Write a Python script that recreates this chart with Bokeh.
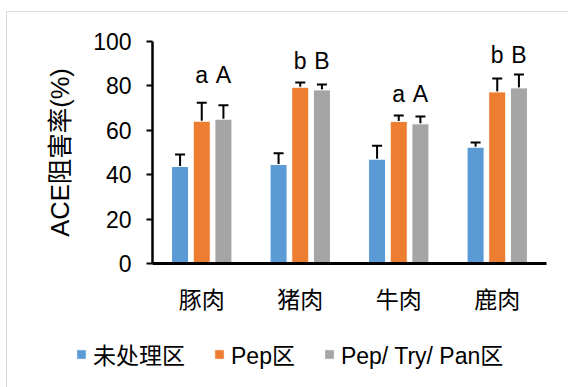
from bokeh.plotting import figure
from bokeh.layouts import column
from bokeh.models import ColumnDataSource, Whisker, TeeHead, Legend, LegendItem, FactorRange, Range1d
from bokeh.transform import dodge
from bokeh.core.properties import value
from bokeh.embed import file_html
from bokeh.resources import INLINE

# Meat types and ACE inhibition (%) for each treatment, with standard deviations
meats = ["豚肉", "猪肉", "牛肉", "鹿肉"]
untreated = [43.7, 44.6, 47.0, 52.4]
untreated_sd = [5.4, 5.1, 6.0, 2.1]
pep = [64.1, 79.4, 64.0, 77.3]
pep_sd = [8.3, 2.1, 2.7, 6.0]
pep_try_pan = [65.0, 78.2, 62.9, 79.1]
pep_try_pan_sd = [6.3, 2.4, 3.3, 6.0]

# Significance letters above the Pep and Pep/Try/Pan bars
pep_letters = ["a", "b", "a", "b"]
mix_letters = ["A", "B", "A", "B"]
letter_height = [85.0, 91.0, 76.5, 94.0]

series_names = ["未处理区", "Pep区", "Pep/ Try/ Pan区"]
colors = ["#5B9BD5", "#ED7D31", "#A5A5A5"]

FONT = "Liberation Sans, Noto Sans CJK SC"

src = ColumnDataSource(dict(
    meat=meats,
    u=untreated, u_hi=[m + s for m, s in zip(untreated, untreated_sd)],
    p=pep, p_hi=[m + s for m, s in zip(pep, pep_sd)],
    t=pep_try_pan, t_hi=[m + s for m, s in zip(pep_try_pan, pep_try_pan_sd)],
    la=pep_letters, lb=mix_letters, ly=letter_height,
))

p = figure(
    x_range=FactorRange(*meats, range_padding=0), y_range=(0, 100),
    width=561, height=320,
    min_border_left=145, min_border_right=22, min_border_top=29, min_border_bottom=69,
    output_backend="svg", toolbar_location=None,
)
p.frame_align = False
p.outline_line_color = None
p.background_fill_color = "white"
p.border_fill_color = "white"
p.xgrid.visible = False
p.ygrid.visible = False

offsets = [-0.22, 0.0, 0.22]
fields = [("u", "u_hi"), ("p", "p_hi"), ("t", "t_hi")]
for (f, hi), off, c in zip(fields, offsets, colors):
    p.vbar(x=dodge("meat", off, range=p.x_range), top=f, width=0.173, source=src,
           fill_color=c, line_color="white", line_width=1)
    w = Whisker(base=dodge("meat", off, range=p.x_range), lower=f, upper=hi, source=src,
                line_color="black", line_width=2, lower_head=None,
                upper_head=TeeHead(size=10, line_width=2, line_color="black"))
    p.add_layout(w)

for col, off in (("la", 0.0), ("lb", 0.22)):
    p.text(x=dodge("meat", off, range=p.x_range), y="ly", text=col, source=src,
           text_align="center", text_baseline="middle", text_color="black",
           text_font=value(FONT), text_font_size="23px")

# axes
p.yaxis.ticker = [0, 20, 40, 60, 80, 100]
p.yaxis.axis_label = "ACE阻害率(%)"
p.yaxis.axis_label_text_font = FONT
p.yaxis.axis_label_text_font_style = "normal"
p.yaxis.axis_label_text_font_size = "25.5px"
p.yaxis.axis_label_text_color = "black"
p.yaxis.axis_label_standoff = 16
p.yaxis.major_label_text_font = FONT
p.yaxis.major_label_text_font_size = "23px"
p.yaxis.major_label_text_color = "black"
p.yaxis.major_label_standoff = 15
p.yaxis.axis_line_width = 2.5
p.yaxis.axis_line_color = "black"
p.yaxis.major_tick_line_width = 2
p.yaxis.major_tick_line_color = "black"
p.yaxis.major_tick_out = 6
p.yaxis.major_tick_in = 0
p.yaxis.minor_tick_line_color = None

p.xaxis.axis_line_width = 3
p.xaxis.axis_line_color = "black"
p.xaxis.major_tick_line_color = None
p.xaxis.minor_tick_line_color = None
p.xaxis.major_label_text_font = FONT
p.xaxis.major_label_text_font_size = "23px"
p.xaxis.major_label_text_color = "black"
p.xaxis.major_label_standoff = 17

# legend strip underneath the chart; its bar renderers stay hidden and only feed the keys
lg = figure(width=561, height=55, x_range=FactorRange(*meats), y_range=Range1d(0, 1),
            x_axis_type=None, y_axis_type=None, output_backend="svg", toolbar_location=None,
            min_border=0)
lg.frame_align = False
lg.outline_line_color = None
lg.grid.visible = False
keys = [lg.vbar(x="meat", top=f, width=0.2, source=src, fill_color=c,
                line_color="white", visible=False)
        for (f, _), c in zip(fields, colors)]
legend = Legend(
    items=[LegendItem(label=n, renderers=[r]) for n, r in zip(series_names, keys)],
    orientation="horizontal", location=(68, 16),
    glyph_width=12, glyph_height=12, label_standoff=6, spacing=28,
    label_text_font=FONT, label_text_font_size="23px", label_text_color="black",
    padding=0, margin=0, border_line_color=None, background_fill_alpha=0,
)
lg.add_layout(legend, "center")

page = column(p, lg, spacing=0, styles={
    "margin-left": "6px", "margin-top": "11px",
    "border-left": "1px solid #d9d9d9", "border-top": "1px solid #d9d9d9"})

open("out.html", "w").write(file_html(page, INLINE))
